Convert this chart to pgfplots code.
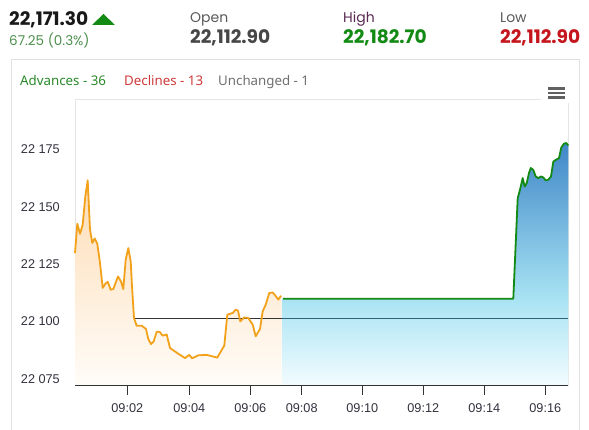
\documentclass[border=0pt]{standalone}
\usepackage{fontspec}
\setmainfont{Liberation Sans}
\newfontfamily\pop{Poppins}
\newfontfamily\noto{Noto Sans}
\usepackage{pgfplots}
\pgfplotsset{compat=1.18}

\definecolor{ora}{HTML}{F2A11B}
\definecolor{oraT}{HTML}{FDDDB6}
\definecolor{oraB}{HTML}{FFFCF8}
\definecolor{grn}{HTML}{138A13}
\definecolor{chg}{HTML}{4F8F4F}
\definecolor{highlbl}{HTML}{5A2A52}
\definecolor{lowred}{HTML}{C4161C}
\definecolor{advgrn}{HTML}{2A8A2A}
\definecolor{decred}{HTML}{D03A3A}
\definecolor{unchg}{HTML}{707070}
\definecolor{blueT}{HTML}{3F87C7}
\definecolor{blueM}{HTML}{A8E3F3}
\definecolor{blueB}{HTML}{F3FCFF}
\definecolor{refline}{HTML}{333333}
\definecolor{reflineb}{HTML}{2E6378}
\definecolor{ticktxt}{HTML}{333340}

\pgfdeclareverticalshading{bluefill}{100bp}{color(0bp)=(blueB); color(25bp)=(blueB); color(43bp)=(blueM); color(75bp)=(blueT); color(100bp)=(blueT)}
\pgfdeclareverticalshading{orafill}{100bp}{color(0bp)=(oraB); color(25bp)=(oraB); color(75bp)=(oraT); color(100bp)=(oraT)}

\begin{document}
\begin{tikzpicture}
\useasboundingbox (0pt,0pt) rectangle (589pt,429pt);
\fill[white] (0pt,0pt) rectangle (589pt,429pt);

% header
\node[anchor=base west, inner sep=0pt, text=black!90] at (9pt,403pt) {\pop\bfseries\fontsize{18.6}{21}\selectfont 22,171.30};
\fill[grn] (92pt,404pt) -- (115pt,404pt) -- (103.5pt,415pt) -- cycle;
\node[anchor=base west, inner sep=0pt, text=chg] at (9pt,383.5pt) {\pop\fontsize{13.5}{16}\selectfont 67.25 (0.3\%)};
\node[anchor=base west, inner sep=0pt, text=black!65] at (190pt,406.3pt) {\pop\fontsize{14}{16}\selectfont Open};
\node[anchor=base west, inner sep=0pt, text=black!72] at (190pt,385.7pt) {\pop\bfseries\fontsize{18.6}{21}\selectfont 22,112.90};
\node[anchor=base west, inner sep=0pt, text=highlbl] at (343pt,406.3pt) {\pop\fontsize{14}{16}\selectfont High};
\node[anchor=base west, inner sep=0pt, text=grn] at (343pt,385.7pt) {\pop\bfseries\fontsize{18.6}{21}\selectfont 22,182.70};
\node[anchor=base west, inner sep=0pt, text=black!65] at (500pt,406.3pt) {\pop\fontsize{14}{16}\selectfont Low};
\node[anchor=base west, inner sep=0pt, text=lowred] at (500pt,385.7pt) {\pop\bfseries\fontsize{18.6}{21}\selectfont 22,112.90};

% card
\draw[black!12] (11pt,-5pt) -- (11pt,369.7pt) -- (579pt,369.7pt) -- (579pt,-5pt);
\node[anchor=base west, inner sep=0pt, text=advgrn] at (20pt,343pt) {\noto\fontsize{13.3}{15}\selectfont Advances - 36};
\node[anchor=base west, inner sep=0pt, text=decred] at (124pt,343pt) {\noto\fontsize{13.3}{15}\selectfont Declines - 13};
\node[anchor=base west, inner sep=0pt, text=unchg] at (218pt,343pt) {\noto\fontsize{13.3}{15}\selectfont Unchanged - 1};

\begin{axis}[
    scale only axis,
    width=493.3pt, height=286.6pt,
    at={(75pt,43.4pt)}, anchor=south west,
    xmin=75, xmax=568.3,
    ymin=22072, ymax=22197,
    scaled y ticks=false, scaled x ticks=false,
    axis line style={draw=black!10},
    xtick={127.3,189.3,250.3,301.7,362.3,423.3,484.3,545.3},
    xticklabels={09:02,09:04,09:06,09:08,09:10,09:12,09:14,09:16},
    ytick={22075,22100,22125,22150,22175},
    yticklabels={22 075,22 100,22 125,22 150,22 175},
    xtick pos=lower, ytick pos=left,
    tick align=outside,
    major tick length=9pt,
    x tick style={draw=refline, line width=0.8pt},
    y tick style={draw=none},
    tick label style={font=\fontsize{12.7}{15}\selectfont, text=ticktxt, inner sep=0pt},
    xticklabel style={anchor=north, yshift=-9pt},
    yticklabel style={anchor=east, xshift=-6pt},
    clip=false,
]
% orange area
\addplot[draw=none, shade, shading=orafill] coordinates {
(75,22072) (75,22129.8) (77.3,22142.6) (80,22138.2) (82.7,22142.2) (85.3,22154.5) (87.7,22161.5)
(90,22140.0) (92.3,22134.2) (94.7,22136.2) (97.3,22133.9) (100,22125.5) (102.7,22114.6)
(105.3,22116.4) (107.7,22117.3) (110.7,22113.8) (113.3,22114.1) (118,22119.6) (121,22117.4)
(123.3,22114.1) (125.7,22126.9) (128.3,22132.0) (130.7,22126.2) (132,22115.3) (134,22101.5)
(136.7,22098.1) (141.7,22098.1) (146,22096.7) (148.3,22092.3) (151,22090.1) (153.7,22091.3)
(156.7,22095.5) (159.7,22095.4) (162.7,22093.8) (166.7,22094.3) (170,22088.4) (173.3,22087.4)
(178.3,22085.9) (185,22084.0) (189.3,22085.4) (192,22083.9) (198.3,22085.2) (206.7,22085.4)
(217.3,22084.2) (224.3,22089.5) (227.3,22102.9) (232.7,22103.7) (235.7,22105.1) (238,22104.7)
(240.3,22100.0) (244,22101.7) (248.3,22101.5) (252.7,22098.6) (255.7,22093.5) (260,22096.7)
(262.7,22104.4) (265.7,22107.3) (269.3,22112.4) (272.7,22112.6) (276,22110.9) (278.3,22109.5)
(281.5,22111.2) (281.5,22072)
};
% blue area
\addplot[draw=none, shade, shading=bluefill] coordinates {
(282,22072) (282,22109.9) (513.3,22109.9) (517.7,22153.8) (520,22157.4) (522.7,22162.5)
(524.7,22158.8) (526.7,22160.3) (529,22164.7) (530.7,22166.9) (533.3,22166.1) (535.7,22163.2)
(538.3,22162.5) (541,22163.2) (543.3,22162.8) (545.7,22161.5) (548.3,22161.8) (551,22163.2)
(553.3,22169.7) (556,22170.5) (559,22171.2) (561.3,22175.9) (564,22177.5) (566.3,22177.8)
(568.3,22176.7) (568.3,22072)
};
% previous close
\addplot[refline, line width=0.8pt] coordinates {(134,22101.2) (282,22101.2)};
\addplot[reflineb, line width=0.8pt] coordinates {(282,22101.2) (568.3,22101.2)};
% orange line
\addplot[ora, line width=1.8pt, line join=round] coordinates {
(75,22129.8) (77.3,22142.6) (80,22138.2) (82.7,22142.2) (85.3,22154.5) (87.7,22161.5)
(90,22140.0) (92.3,22134.2) (94.7,22136.2) (97.3,22133.9) (100,22125.5) (102.7,22114.6)
(105.3,22116.4) (107.7,22117.3) (110.7,22113.8) (113.3,22114.1) (118,22119.6) (121,22117.4)
(123.3,22114.1) (125.7,22126.9) (128.3,22132.0) (130.7,22126.2) (132,22115.3) (134,22101.5)
(136.7,22098.1) (141.7,22098.1) (146,22096.7) (148.3,22092.3) (151,22090.1) (153.7,22091.3)
(156.7,22095.5) (159.7,22095.4) (162.7,22093.8) (166.7,22094.3) (170,22088.4) (173.3,22087.4)
(178.3,22085.9) (185,22084.0) (189.3,22085.4) (192,22083.9) (198.3,22085.2) (206.7,22085.4)
(217.3,22084.2) (224.3,22089.5) (227.3,22102.9) (232.7,22103.7) (235.7,22105.1) (238,22104.7)
(240.3,22100.0) (244,22101.7) (248.3,22101.5) (252.7,22098.6) (255.7,22093.5) (260,22096.7)
(262.7,22104.4) (265.7,22107.3) (269.3,22112.4) (272.7,22112.6) (276,22110.9) (278.3,22109.5)
(281,22111.2)
};
% green line
\addplot[grn, line width=1.8pt, line join=round] coordinates {
(283,22109.9) (513.3,22109.9) (517.7,22153.8) (520,22157.4) (522.7,22162.5)
(524.7,22158.8) (526.7,22160.3) (529,22164.7) (530.7,22166.9) (533.3,22166.1) (535.7,22163.2)
(538.3,22162.5) (541,22163.2) (543.3,22162.8) (545.7,22161.5) (548.3,22161.8) (551,22163.2)
(553.3,22169.7) (556,22170.5) (559,22171.2) (561.3,22175.9) (564,22177.5) (566.3,22177.8)
(568.3,22176.7)
};
\draw[refline, line width=0.9pt] (rel axis cs:0,0) -- (rel axis cs:1,0);
\end{axis}

% menu button
\fill[white] (541pt,326pt) rectangle (570pt,345pt);
\foreach \yy in {340.5,336,331.5} \draw[black!62, line width=2.2pt] (548pt,\yy pt) -- (565pt,\yy pt);
\end{tikzpicture}
\end{document}
